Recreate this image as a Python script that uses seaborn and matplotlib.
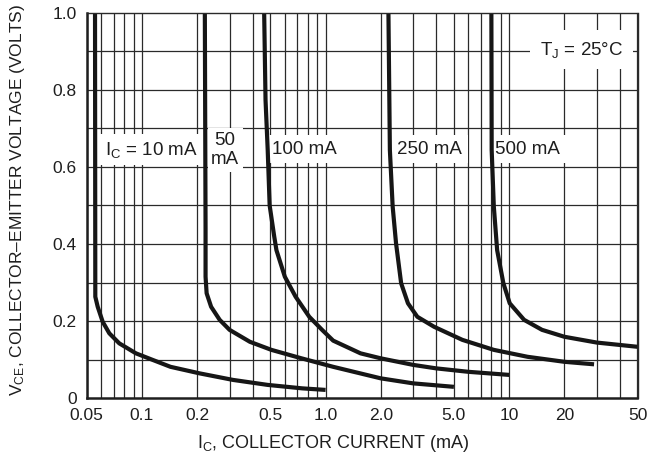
import matplotlib
matplotlib.use("Agg")
import matplotlib.pyplot as plt
from matplotlib.ticker import FixedLocator, NullFormatter, NullLocator
import seaborn as sns
import pandas as pd
import numpy as np

# ---- data ----
x_10 = [0.0555, 0.0557, 0.0574, 0.0611, 0.0664, 0.0752, 0.0927, 0.1143, 0.143, 0.206, 0.313, 0.484, 0.748, 1.0]
y_10 = [1.0, 0.263, 0.237, 0.198, 0.168, 0.142, 0.116, 0.099, 0.081, 0.064, 0.047, 0.034, 0.025, 0.021]

x_50 = [0.220, 0.222, 0.222, 0.225, 0.238, 0.265, 0.30, 0.387, 0.507, 0.74, 1.1, 2.0, 3.0, 5.0]
y_50 = [1.0, 0.44, 0.315, 0.272, 0.237, 0.203, 0.177, 0.146, 0.125, 0.103, 0.081, 0.051, 0.038, 0.029]

x_100 = [0.463, 0.471, 0.484, 0.496, 0.525, 0.54, 0.60, 0.687, 0.815, 0.957, 1.1, 1.55, 2.0, 3.0, 4.0, 6.0, 10.0]
y_100 = [1.0, 0.774, 0.644, 0.50, 0.42, 0.384, 0.315, 0.263, 0.211, 0.177, 0.149, 0.116, 0.103, 0.086, 0.077, 0.068, 0.060]

x_250 = [2.20, 2.24, 2.32, 2.42, 2.58, 2.81, 3.16, 3.9, 5.56, 8.25, 12.6, 20.0, 29.0]
y_250 = [1.0, 0.644, 0.497, 0.402, 0.298, 0.246, 0.211, 0.185, 0.151, 0.125, 0.107, 0.094, 0.0875]

x_500 = [8.0, 8.03, 8.25, 8.6, 9.3, 10.07, 12.06, 15.1, 20.0, 30.0, 50.0]
y_500 = [1.0, 0.644, 0.497, 0.384, 0.298, 0.246, 0.203, 0.177, 0.159, 0.144, 0.133]

series_names = ["10 mA", "50 mA", "100 mA", "250 mA", "500 mA"]
x_ticks = [0.05, 0.1, 0.2, 0.5, 1.0, 2.0, 5.0, 10, 20, 50]
x_tick_labels = ["0.05", "0.1", "0.2", "0.5", "1.0", "2.0", "5.0", "10", "20", "50"]
y_ticks = [0, 0.2, 0.4, 0.6, 0.8, 1.0]
y_tick_labels = ["0", "0.2", "0.4", "0.6", "0.8", "1.0"]

# ---- fonts ----
sns.set_theme(style="white")
fam = "Liberation Sans"
plt.rcParams["font.family"] = [fam, "DejaVu Sans"]
plt.rcParams["mathtext.fontset"] = "custom"
plt.rcParams["mathtext.rm"] = fam
plt.rcParams["mathtext.it"] = fam
plt.rcParams["mathtext.default"] = "rm"

text_color = "#1e1e1e"

frames = []
for name, xs, ys in zip(series_names,
                        [x_10, x_50, x_100, x_250, x_500],
                        [y_10, y_50, y_100, y_250, y_500]):
    frames.append(pd.DataFrame({"ic": xs, "vce": ys, "series": name}))
df = pd.concat(frames, ignore_index=True)

fig = plt.figure(figsize=(6.56, 4.61), dpi=100)
ax = fig.add_axes([86.7 / 656, 1 - 398 / 461, (637.5 - 86.7) / 656, (398 - 13) / 461])

ax.set_xscale("log")
ax.set_xlim(0.05, 50)
ax.set_ylim(0, 1.0)

# grid
grid_color = "#2a2a2a"
minor_x = []
for dec in [0.01, 0.1, 1, 10]:
    for m in range(1, 10):
        v = m * dec
        if 0.05 <= v <= 50:
            minor_x.append(v)
for v in minor_x:
    ax.axvline(v, color=grid_color, lw=0.9, zorder=1)
for v in np.arange(0.1, 1.0, 0.1):
    ax.axhline(v, color=grid_color, lw=0.9, zorder=1)

sns.lineplot(data=df, x="ic", y="vce", units="series", estimator=None, sort=False,
             color="#161616", lw=3.0, ax=ax, zorder=3, legend=False,
             solid_joinstyle="round", solid_capstyle="butt")

ax.xaxis.set_major_locator(FixedLocator(x_ticks))
ax.set_xticklabels(x_tick_labels)
ax.xaxis.set_minor_locator(NullLocator())
ax.xaxis.set_minor_formatter(NullFormatter())
ax.set_yticks(y_ticks)
ax.set_yticklabels(y_tick_labels)
ax.tick_params(axis="both", length=0, labelsize=12.5, colors=text_color)
ax.tick_params(axis="x", pad=7)
ax.tick_params(axis="y", pad=7)

for side in ["top", "right"]:
    ax.spines[side].set_color(grid_color)
    ax.spines[side].set_linewidth(1.0)
for side in ["left", "bottom"]:
    ax.spines[side].set_color("#1e1e1e")
    ax.spines[side].set_linewidth(1.8)
for s in ax.spines.values():
    s.set_zorder(4)

ax.set_xlabel("")
ax.set_ylabel("")
fig.text(333 / 656, 1 - 443 / 461, r"I$_{\mathrm{C}}$, COLLECTOR CURRENT (mA)",
         ha="center", va="center", fontsize=13, color=text_color)
fig.text(18 / 656, 1 - 396 / 461, r"V$_{\mathrm{CE}}$, COLLECTOR–EMITTER VOLTAGE (VOLTS)",
         ha="center", va="bottom", rotation=90, fontsize=12.5, color=text_color)

box = dict(facecolor="white", edgecolor="none", pad=4)
lab_kw = dict(ha="center", va="center", fontsize=13.5, color=text_color, zorder=2)
ax.text(0.112, 0.645, r"I$_{\mathrm{C}}$ = 10 mA", bbox=box, **lab_kw)
ax.text(0.284, 0.644, "50\nmA", bbox=dict(facecolor="white", edgecolor="none", pad=2.5),
        linespacing=1.2, **lab_kw)
ax.text(0.77, 0.646, "100 mA", bbox=box, **lab_kw)
ax.text(3.69, 0.646, "250 mA", bbox=box, **lab_kw)
ax.text(12.6, 0.646, "500 mA", bbox=box, **lab_kw)
ax.text(24.7, 0.905, r"T$_{\mathrm{J}}$ = 25°C",
        bbox=dict(facecolor="white", edgecolor="none", pad=7), **lab_kw)

fig.savefig("out.png", dpi=100)
